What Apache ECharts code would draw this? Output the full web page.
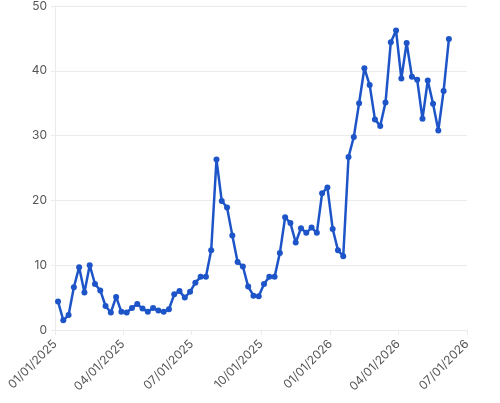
<!DOCTYPE html>
<html>
<head>
<meta charset="utf-8">
<script src="https://cdn.jsdelivr.net/npm/echarts@6/dist/echarts.min.js"></script>
<style>
  html, body { margin: 0; padding: 0; background: #fff; }
  #chart { width: 500px; height: 403px; }
</style>
</head>
<body>
<div id="chart"></div>
<script>
// weekly values, first week starting 2025-01-05
const startDate = '2025-01-05'
const values = [
  4.4, 1.5, 2.3, 6.6, 9.7, 5.8, 10.0, 7.1, 6.1, 3.7,
  2.7, 5.1, 2.8, 2.7, 3.4, 4.0, 3.3, 2.8, 3.4, 3.0,
  2.8, 3.2, 5.5, 6.0, 5.0, 5.9, 7.3, 8.2, 8.2, 12.3,
  26.3, 19.9, 18.9, 14.6, 10.5, 9.8, 6.7, 5.3, 5.2, 7.1,
  8.2, 8.2, 11.9, 17.4, 16.5, 13.5, 15.7, 15.0, 15.8, 15.0,
  21.1, 22.0, 15.6, 12.3, 11.4, 26.7, 29.8, 35.0, 40.4, 37.8,
  32.5, 31.5, 35.1, 44.4, 46.2, 38.8, 44.3, 39.1, 38.6, 32.6,
  38.5, 34.9, 30.8, 36.9, 44.9
]
const tickDates = ['2025-01-01', '2025-04-01', '2025-07-01', '2025-10-01', '2026-01-01', '2026-04-01', '2026-07-01']
const yTicks = [0, 10, 20, 30, 40, 50]

const DAY = 24 * 3600 * 1000
function toMs(d) {
  return Date.UTC(+d.slice(0, 4), +d.slice(5, 7) - 1, +d.slice(8, 10))
}
const t0 = toMs(startDate)
const data = values.map((v, i) => [t0 + i * 7 * DAY, v])
const tickValues = tickDates.map(toMs)

function fmtDate(v) {
  const d = new Date(v)
  const mm = String(d.getUTCMonth() + 1).padStart(2, '0')
  const dd = String(d.getUTCDate()).padStart(2, '0')
  return mm + '/' + dd + '/' + d.getUTCFullYear()
}

const chart = echarts.init(document.getElementById('chart'))
const option = {
  animation: false,
  grid: { left: 55, right: 33, top: 5, bottom: 73, containLabel: false },
  xAxis: {
    type: 'value',
    min: tickValues[0],
    max: tickValues[tickValues.length - 1],
    axisLine: { show: true, lineStyle: { color: '#ebebeb' } },
    axisTick: { show: true, customValues: tickValues, length: 5, lineStyle: { color: '#ebebeb' } },
    splitLine: { show: false },
    axisLabel: {
      customValues: tickValues,
      rotate: 45,
      color: '#555',
      fontSize: 12,
      fontFamily: 'Inter',
      margin: 12,
      formatter: v => fmtDate(v)
    }
  },
  yAxis: {
    type: 'value',
    min: yTicks[0],
    max: yTicks[yTicks.length - 1],
    interval: 10,
    axisLine: { show: true, lineStyle: { color: '#ebebeb' } },
    axisTick: { show: true, length: 4, lineStyle: { color: '#ebebeb' } },
    splitLine: { show: true, lineStyle: { color: '#ebebeb' } },
    axisLabel: { color: '#555', fontSize: 12, fontFamily: 'Inter', margin: 8 }
  },
  series: [
    {
      type: 'line',
      data: data,
      symbol: 'circle',
      symbolSize: 6,
      showAllSymbol: true,
      lineStyle: { color: '#1d55c8', width: 2.5 },
      itemStyle: { color: '#1d55c8' }
    }
  ]
}
chart.setOption(option)
</script>
</body>
</html>
